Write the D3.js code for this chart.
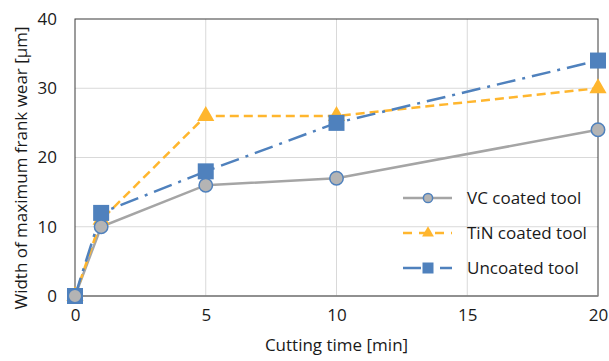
<!DOCTYPE html>
<html>
<head>
<meta charset="utf-8">
<script src="https://cdn.jsdelivr.net/npm/d3@7"></script>
<style>
  body { margin: 0; background: #fff; }
  text { font-family: "Open Sans", sans-serif; fill: #1a1a1a; }
</style>
</head>
<body>
<div id="chart"></div>
<script>
// data
var times = [0, 1, 5, 10, 20];
var vcWear = [0, 10, 16, 17, 24];
var tinWear = [0, 11, 26, 26, 30];
var uncoatedWear = [0, 12, 18, 25, 34];
var seriesNames = ["VC coated tool", "TiN coated tool", "Uncoated tool"];
var xTicks = [0, 5, 10, 15, 20];
var yTicks = [0, 10, 20, 30, 40];

var svgWidth = 609, svgHeight = 361;
var margin = {top: 19, right: 11, bottom: 65, left: 75};
var width = svgWidth - margin.left - margin.right;
var height = svgHeight - margin.top - margin.bottom;
var fontSize = "17px";

var svg = d3.select("#chart").append("svg")
  .attr("width", svgWidth)
  .attr("height", svgHeight);

var chartGroup = svg.append("g")
  .attr("transform", `translate(${margin.left}, ${margin.top})`);

var x = d3.scaleLinear().domain([0, 20]).range([0, width]);
var y = d3.scaleLinear().domain([0, 40]).range([height, 0]);

// gridlines
chartGroup.append("g").selectAll("line.h")
  .data(yTicks.slice(1, -1)).enter().append("line")
  .attr("x1", 0).attr("x2", width)
  .attr("y1", d => y(d)).attr("y2", d => y(d))
  .attr("stroke", "#d9d9d9").attr("stroke-width", 1);
chartGroup.append("g").selectAll("line.v")
  .data(xTicks.slice(1, -1)).enter().append("line")
  .attr("y1", 0).attr("y2", height)
  .attr("x1", d => x(d)).attr("x2", d => x(d))
  .attr("stroke", "#d9d9d9").attr("stroke-width", 1);

// frame
chartGroup.append("rect")
  .attr("width", width).attr("height", height)
  .attr("fill", "none").attr("stroke", "#3a3a3a").attr("stroke-width", 1);
chartGroup.append("line")
  .attr("x1", 0).attr("x2", width).attr("y1", height).attr("y2", height)
  .attr("stroke", "#8c8c8c").attr("stroke-width", 1.5);

// axes (labels only)
var bottomAxis = d3.axisBottom(x).tickValues(xTicks).tickSize(0).tickPadding(13);
var leftAxis = d3.axisLeft(y).tickValues(yTicks).tickSize(0).tickPadding(18);
var gx = chartGroup.append("g").attr("transform", `translate(0, ${height})`).call(bottomAxis);
var gy = chartGroup.append("g").call(leftAxis);
[gx, gy].forEach(function(g) {
  g.select(".domain").remove();
  g.selectAll("text").style("font-size", fontSize).attr("fill", "#1a1a1a")
    .style("font-family", "'Open Sans', sans-serif");
});

// axis titles
svg.append("text")
  .attr("x", margin.left + width / 2).attr("y", 351)
  .attr("text-anchor", "middle").style("font-size", fontSize)
  .text("Cutting time [min]");
svg.append("text")
  .attr("transform", "translate(27, 168) rotate(-90)")
  .attr("text-anchor", "middle").style("font-size", fontSize)
  .text("Width of maximum frank wear [\u03bcm]");

var series = [
  {name: seriesNames[0], values: vcWear, color: "#a5a5a5", dash: null, marker: "circle"},
  {name: seriesNames[1], values: tinWear, color: "#ffb62e", dash: "9,5", marker: "triangle"},
  {name: seriesNames[2], values: uncoatedWear, color: "#4f81bd", dash: "19,7,3,7", marker: "square"}
];

var line = d3.line().x(d => x(d[0])).y(d => y(d[1]));

function drawMarker(g, type, color, size) {
  if (type === "circle") {
    g.append("circle").attr("r", size * 0.42)
      .attr("fill", "#b4b4b4").attr("stroke", "#4f81bd").attr("stroke-width", 1.5);
  } else if (type === "triangle") {
    g.append("path")
      .attr("d", d3.symbol().type(d3.symbolTriangle).size(size * size * 0.5)())
      .attr("fill", color);
  } else {
    g.append("rect").attr("x", -size / 2).attr("y", -size / 2)
      .attr("width", size).attr("height", size).attr("fill", color);
  }
}

// lines
series.forEach(function(s) {
  chartGroup.append("path")
    .datum(times.map((t, i) => [t, s.values[i]]))
    .attr("d", line)
    .attr("fill", "none")
    .attr("stroke", s.color)
    .attr("stroke-width", 2.5)
    .attr("stroke-dasharray", s.dash);
});

// markers: TiN, Uncoated, then VC
[series[1], series[2], series[0]].forEach(function(s) {
  times.forEach(function(t, i) {
    var g = chartGroup.append("g")
      .attr("transform", `translate(${x(t)}, ${y(s.values[i])})`);
    drawMarker(g, s.marker, s.color, 16);
  });
});

// legend
var legend = svg.append("g");
series.forEach(function(s, i) {
  var ly = 198 + i * 35;
  legend.append("line")
    .attr("x1", 403).attr("x2", 452).attr("y1", ly).attr("y2", ly)
    .attr("stroke", s.color).attr("stroke-width", 2.5)
    .attr("stroke-dasharray", s.marker === "triangle" ? "9,7" : (s.marker === "square" ? "18,7,5,7" : null));
  var g = legend.append("g").attr("transform", `translate(428, ${ly})`);
  drawMarker(g, s.marker, s.color, 11);
  legend.append("text")
    .attr("x", 467).attr("y", ly + 6)
    .style("font-size", fontSize)
    .text(s.name);
});
</script>
</body>
</html>
